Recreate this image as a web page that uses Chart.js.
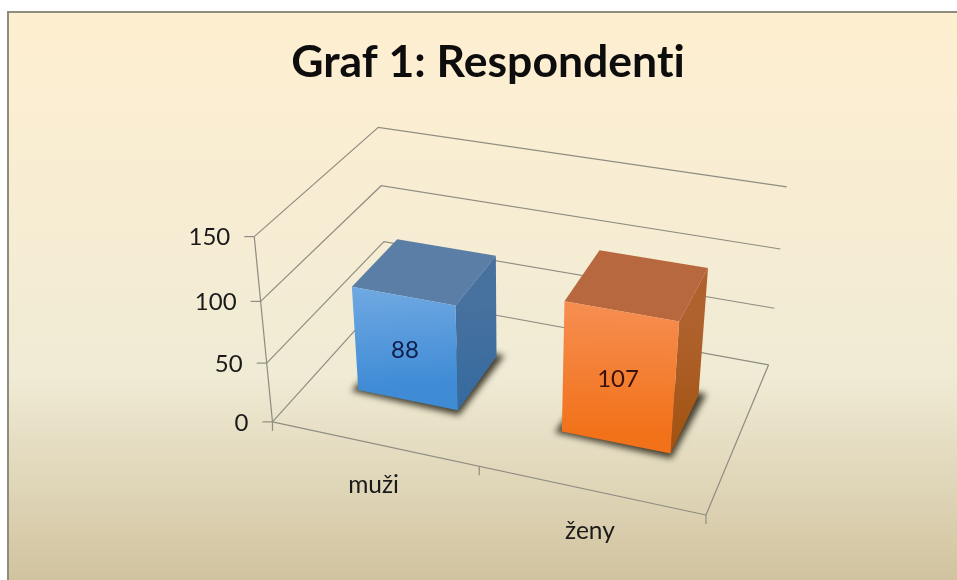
<!DOCTYPE html>
<html><head><meta charset="utf-8">
<style>html,body{margin:0;padding:0;background:#fff}canvas{display:block;filter:blur(0.45px)}</style>
<script src="https://cdn.jsdelivr.net/npm/chart.js@4"></script>
</head><body><canvas id="c" width="957" height="580"></canvas>
<script>
const categories = ['muži', 'ženy'];
const respondents = [88, 107];
const yMax = 150;
const yStep = 50;
const titleText = 'Graf 1: Respondenti';

const barStyles = [
  {top:'#5a7ea6', sideA:'#47719f', sideB:'#356a9f', frontA:'#70a9e2', frontB:'#3f8bd6', text:'#0e1d4a'},
  {top:'#b8683e', sideA:'#b0622e', sideB:'#a1520f', frontA:'#f68e52', frontB:'#f2721a', text:'#3a120c'}
];
const FONT = 'Lato, Carlito, "Open Sans", sans-serif';

// camera calibration of the 3D box: [u, w, h] -> screen
const calib = [
  [0,0,0,273,422],[1,0,0,706,515],[1,1,0,769,365],[0,1,0,386,295],
  [0,0,1,254,237],[0,1,1,378,127],[1,1,1,787,187],
  [0,1,2/3,382,186],[0,1,1/3,384,242],[1,1,1/3,774,308],[1,1,2/3,780,249],
  [0,0,1/3,266,363],[0,0,2/3,261,301]
];
function solveCamera(a){
  const n=11, M=Array.from({length:n},()=>new Array(n+1).fill(0));
  const add=(r,b)=>{for(let i=0;i<n;i++){for(let j=0;j<n;j++)M[i][j]+=r[i]*r[j];M[i][n]+=r[i]*b;}};
  a.forEach(([X,Y,Z,x,y])=>{
    add([X,Y,Z,1,0,0,0,0,-x*X,-x*Y,-x*Z],x);
    add([0,0,0,0,X,Y,Z,1,-y*X,-y*Y,-y*Z],y);
  });
  for(let i=0;i<n;i++){
    let p=i;for(let k=i+1;k<n;k++)if(Math.abs(M[k][i])>Math.abs(M[p][i]))p=k;
    [M[i],M[p]]=[M[p],M[i]];
    for(let k=0;k<n;k++)if(k!==i){const f=M[k][i]/M[i][i];for(let j=i;j<=n;j++)M[k][j]-=f*M[i][j];}
  }
  return M.map((r,i)=>r[n]/r[i]);
}
const P=solveCamera(calib);
function proj(u,w,h){
  const d=P[8]*u+P[9]*w+P[10]*h+1;
  return [(P[0]*u+P[1]*w+P[2]*h+P[3])/d,(P[4]*u+P[5]*w+P[6]*h+P[7])/d];
}
const W0=0.3, W1=0.7;

function poly(ctx,pts){ctx.beginPath();pts.forEach((p,i)=>i?ctx.lineTo(p[0],p[1]):ctx.moveTo(p[0],p[1]));ctx.closePath();}
function grad(ctx,a,b,c0,c1){const g=ctx.createLinearGradient(a[0],a[1],b[0],b[1]);g.addColorStop(0,c0);g.addColorStop(1,c1);return g;}
function seg(ctx,a,b){ctx.beginPath();ctx.moveTo(a[0],a[1]);ctx.lineTo(b[0],b[1]);ctx.stroke();}

const scene={
  id:'scene',
  beforeDraw(chart){
    const ctx=chart.ctx,W=chart.width,H=chart.height;
    ctx.letterSpacing='0.01px';
    ctx.save();
    ctx.fillStyle='#fff';ctx.fillRect(0,0,W,H);
    const g=ctx.createLinearGradient(0,11,0,H);
    g.addColorStop(0,'#ffefd1');g.addColorStop(0.64,'#f0ebd5');g.addColorStop(1,'#d1c39f');
    ctx.fillStyle=g;ctx.fillRect(7,11,W-7,H-11);
    ctx.strokeStyle='#8e8c7e';ctx.lineWidth=2;
    ctx.beginPath();ctx.moveTo(8,H);ctx.lineTo(8,12);ctx.lineTo(W,12);ctx.stroke();
    // box: walls, floor and gridlines
    const ys=chart.scales.y,xs=chart.scales.x,a=chart.chartArea;
    ctx.strokeStyle='#8f8d82';ctx.lineWidth=1.2;
    ys.ticks.forEach(t=>{
      const h=(a.bottom-ys.getPixelForValue(t.value))/a.height;
      const f=proj(0,0,h),bl=proj(0,1,h),br=proj(1,1,h);
      ctx.beginPath();ctx.moveTo(f[0],f[1]);ctx.lineTo(bl[0],bl[1]);ctx.lineTo(br[0],br[1]);ctx.stroke();
      seg(ctx,[f[0]-10,f[1]],f);
      ctx.fillStyle='#1a1a1a';ctx.font='24px '+FONT;ctx.textAlign='right';ctx.textBaseline='middle';
      ctx.fillText(String(t.value),f[0]-24,f[1]+1);
    });
    seg(ctx,proj(0,0,0),proj(0,0,1));
    seg(ctx,proj(0,0,0),proj(1,0,0));
    seg(ctx,proj(1,0,0),proj(1,1,0));
    // category ticks and labels
    ctx.fillStyle='#1a1a1a';ctx.font='24.5px '+FONT;ctx.textAlign='center';ctx.textBaseline='middle';
    [0,0.5,1].forEach(u=>{const p=proj(u,0,0);seg(ctx,p,[p[0],p[1]+9]);});
    categories.forEach((c,i)=>{
      const u=(xs.getPixelForValue(i)-a.left)/a.width,p=proj(u,0,0);
      ctx.fillText(c,p[0],p[1]+41);
    });
    ctx.restore();
  },
  beforeDatasetDraw(chart,args){
    const ctx=chart.ctx,a=chart.chartArea;
    args.meta.data.forEach((bar,i)=>{
      const s=barStyles[i];
      const u0=(bar.x-bar.width/2-a.left)/a.width,u1=(bar.x+bar.width/2-a.left)/a.width;
      const h=(bar.base-bar.y)/a.height;
      const fl0=proj(u0,W0,0),fr0=proj(u1,W0,0),br0=proj(u1,W1,0),bl0=proj(u0,W1,0);
      const fl1=proj(u0,W0,h),fr1=proj(u1,W0,h),br1=proj(u1,W1,h),bl1=proj(u0,W1,h);
      // floor shadow
      ctx.save();
      ctx.filter='blur(3px)';
      ctx.fillStyle='rgba(50,46,30,0.9)';
      poly(ctx,[[fl0[0]-7,fl0[1]+1],[fr0[0]+1,fr0[1]+5],[br0[0]+8,br0[1]-1],bl0]);ctx.fill();
      ctx.restore();
      // faces
      ctx.fillStyle=s.top;poly(ctx,[fl1,fr1,br1,bl1]);ctx.fill();
      ctx.fillStyle=grad(ctx,fr1,fr0,s.sideA,s.sideB);poly(ctx,[fr1,br1,br0,fr0]);ctx.fill();
      ctx.fillStyle=grad(ctx,fl1,fl0,s.frontA,s.frontB);poly(ctx,[fl1,fr1,fr0,fl0]);ctx.fill();
      // value label
      const cx=(fl1[0]+fr1[0]+fr0[0]+fl0[0])/4,cy=(fl1[1]+fr1[1]+fr0[1]+fl0[1])/4;
      ctx.fillStyle=s.text;ctx.font='24px '+FONT;ctx.textAlign='center';ctx.textBaseline='middle';
      ctx.fillText(String(respondents[i]),cx-1,cy+2.5);
    });
    return false;
  }
};

new Chart(document.getElementById('c'),{
  type:'bar',
  data:{labels:categories,datasets:[{data:respondents,backgroundColor:['#4f93d8','#f47b20'],barPercentage:0.5,categoryPercentage:1}]},
  plugins:[scene],
  options:{
    responsive:false,animation:false,
    layout:{padding:{left:273,right:254,top:0,bottom:158}},
    plugins:{
      legend:{display:false},tooltip:{enabled:false},
      title:{display:true,text:titleText,fullSize:false,color:'#0d0d0d',
        font:{family:FONT,size:44.5,weight:'bold',lineHeight:1.2},padding:{top:36,bottom:147.6}}
    },
    scales:{
      x:{display:false},
      y:{display:false,min:0,max:yMax,ticks:{stepSize:yStep}}
    }
  }
});
</script></body></html>
